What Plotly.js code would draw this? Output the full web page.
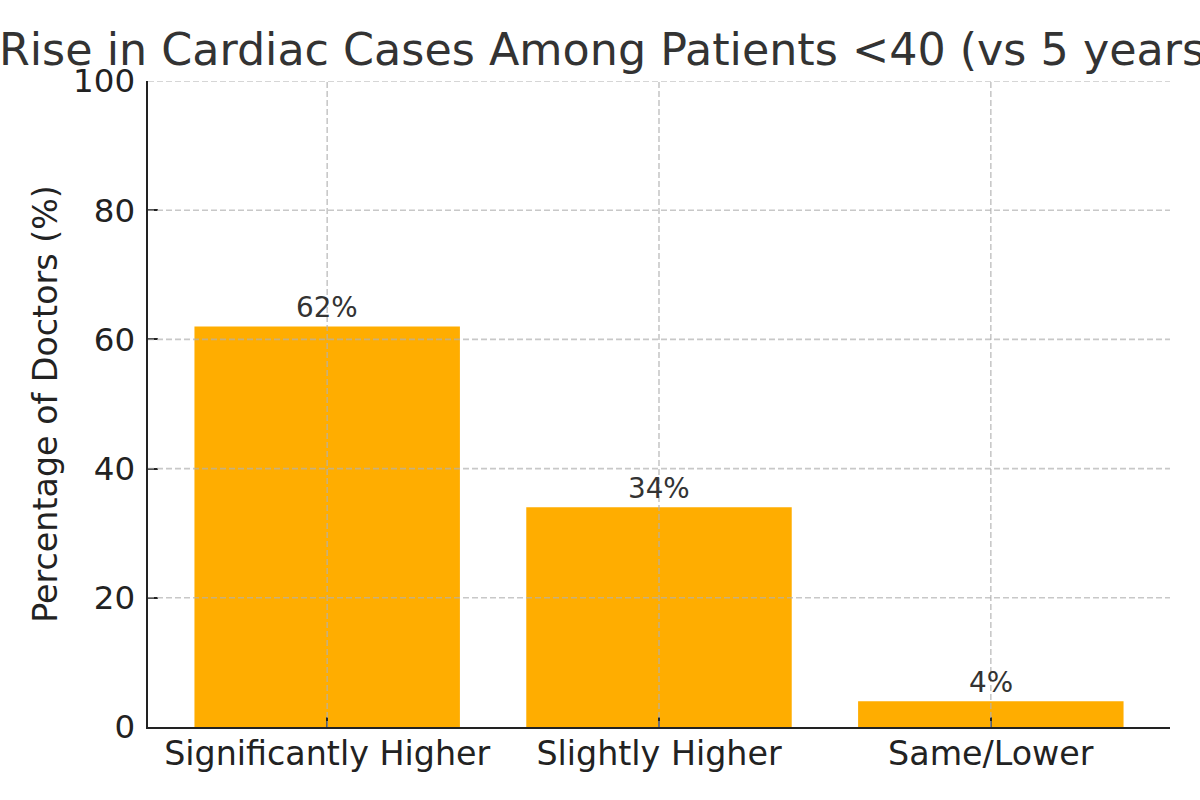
<!DOCTYPE html>
<html>
<head>
<meta charset="utf-8">
<script src="https://cdn.plot.ly/plotly-3.0.1.min.js"></script>
<style>
  html, body { margin: 0; padding: 0; background: #fff; }
  #chart { width: 1200px; height: 800px; }
</style>
</head>
<body>
<div id="chart"></div>
<script>
// 回答の区分と医師の割合(%)
const categories = ["Significantly Higher", "Slightly Higher", "Same/Lower"]
const percentages = [62, 34, 4]
const yTicks = [0, 20, 40, 60, 80, 100]

const barColor = "#ffad00"
const gridColor = "rgba(176,176,176,0.7)"
const font = "'DejaVu Sans', sans-serif"

// matplotlib 風にグリッドを棒の上へ重ねる(Plotly の grid は常に棒の下なので shape で描く)
const gridShapes = [
  ...yTicks.filter((v) => v > 0).map((v) => ({
    type: "line", layer: "above", xref: "paper", yref: "y",
    x0: 0, x1: 1, y0: v, y1: v,
    line: { color: gridColor, width: 1.6, dash: "6px,3px" }
  })),
  ...categories.map((c) => ({
    type: "line", layer: "above", xref: "x", yref: "paper",
    x0: c, x1: c, y0: 0, y1: 1,
    line: { color: gridColor, width: 1.6, dash: "6px,3px" }
  }))
]

const labels = categories.map((c, i) => ({
  x: c, y: percentages[i], xref: "x", yref: "y",
  text: `${percentages[i]}%`, showarrow: false,
  yanchor: "bottom", font: { family: font, size: 27.8, color: "#333" }
}))

Plotly.newPlot("chart", [ {
  type: "bar",
  x: categories,
  y: percentages,
  width: 0.8,
  marker: { color: barColor },
  hoverinfo: "skip"
} ], {
  width: 1200,
  height: 800,
  paper_bgcolor: "#fff",
  plot_bgcolor: "#fff",
  margin: { l: 148, r: 30, t: 81, b: 73 },
  font: { family: font, color: "#222" },
  showlegend: false,
  title: {
    text: "Rise in Cardiac Cases Among Patients <40 (vs 5 years ago)",
    font: { family: font, size: 44.4, color: "#333" },
    xref: "paper", x: 0.5, xanchor: "center",
    yref: "container", y: 0.919, yanchor: "bottom"
  },
  xaxis: {
    type: "category",
    range: [-0.54, 2.54],
    showgrid: false,
    showline: true, linecolor: "#222", linewidth: 2.4,
    ticks: "inside", ticklen: 10, tickwidth: 2.2, tickcolor: "#222",
    tickfont: { family: font, size: 33.3, color: "#222" },
    ticklabelstandoff: -4,
    zeroline: false, fixedrange: true
  },
  yaxis: {
    range: [0, 100],
    tickvals: yTicks,
    showgrid: false,
    showline: true, linecolor: "#222", linewidth: 2.4,
    ticks: "inside", ticklen: 10, tickwidth: 2.2, tickcolor: "#222",
    tickfont: { family: font, size: 32.5, color: "#222" },
    ticklabelstandoff: 4,
    zeroline: false, fixedrange: true,
    title: {
      text: "Percentage of Doctors (%)",
      font: { family: font, size: 33.3, color: "#222" },
      standoff: 6
    }
  },
  shapes: gridShapes,
  annotations: labels
}, { displayModeBar: false, staticPlot: true })
</script>
</body>
</html>
